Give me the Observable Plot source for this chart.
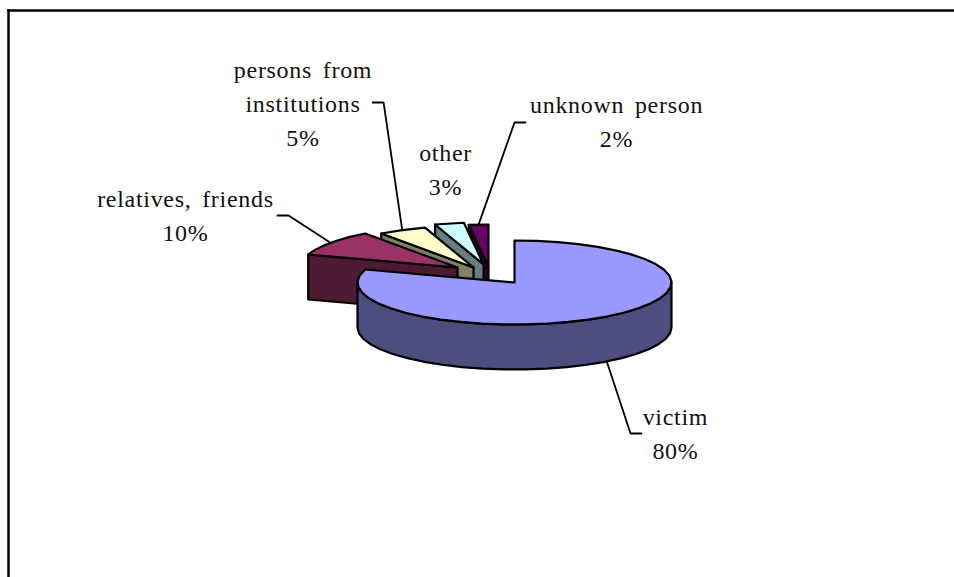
<!DOCTYPE html>
<html>
<head>
<meta charset="utf-8">
<script src="https://cdn.jsdelivr.net/npm/d3@7"></script>
<script src="https://cdn.jsdelivr.net/npm/@observablehq/plot@0.6"></script>
<style>html,body{margin:0;padding:0;background:#fff}svg{display:block}svg text{letter-spacing:0.7px;word-spacing:4px}</style>
</head>
<body>
<div id="chart"></div>
<script>
// Data
const categories = ["victim", "relatives, friends", "persons from\ninstitutions", "other", "unknown person"];
const shares = [80, 10, 5, 3, 2];
const topColors = ["#9999FF", "#993366", "#FFFFCC", "#CCFFFF", "#660066"];
const sideColors = ["#4D4D80", "#4D1A33", "#808066", "#668080", "#330033"];

// Layout, in pie units (x: horizontal radius = 1, y: vertical radius = 1, y downward)
const explodeX = [0, -0.363, -0.261, -0.197, -0.166];
const explodeY = [0, -0.357, -0.357, -0.43, -0.381];
const depth = 1.071;
const labelX = [1.025, -2.096, -1.347, -0.439, 0.65];
const labelY = [3.607, -1.571, -4.238, -2.667, -3.81];
const leaderElbow = [[0.739, 3.595], [-1.439, -1.595], [-0.834, -4.286], null, [0, -3.81]];
const leaderTail = [[0.809, 3.595], [-1.51, -1.595], [-0.904, -4.286], null, [0.07, -3.81]];
const paintOrder = [4, 3, 2, 1, 0];

const rad = (d) => (d * Math.PI) / 180;
const rim = (a, i, drop = 0) => ({
  x: explodeX[i] + Math.sin(a),
  y: explodeY[i] - Math.cos(a) + drop
});
const apex = (i) => ({x: explodeX[i], y: explodeY[i]});
function arc(a0, a1, i, drop = 0) {
  const step = rad(8);
  const n = Math.max(1, Math.round((a1 - a0) / step));
  return d3.range(n + 1).map((k) => rim(a0 + ((a1 - a0) * k) / n, i, drop));
}
const close = (pts) => [...pts, pts[0]];

const total = d3.sum(shares);
let acc = 0;
const slices = shares.map((v, i) => {
  const a0 = (acc / total) * 2 * Math.PI;
  acc += v;
  return {i, a0, a1: (acc / total) * 2 * Math.PI, mid: a0 + ((v / total) * 2 * Math.PI) / 2};
});

const marks = [];
marks.push(Plot.frame({anchor: "left", stroke: "black", strokeWidth: 2.5}));
marks.push(Plot.frame({anchor: "top", stroke: "black", strokeWidth: 2.5}));

function poly(points, fill) {
  marks.push(Plot.line(points, {x: "x", y: "y", fill, stroke: "black", strokeWidth: 2.2, strokeLinejoin: "round"}));
}
for (const idx of paintOrder) {
  const {i, a0, a1} = slices[idx];
  const A = apex(i);
  const wall = [A, rim(a0, i), rim(a0, i, depth), {x: A.x, y: A.y + depth}];
  if (i > 0) poly(close(wall), sideColors[i]);
  // outer wall over the front half of the rim
  const f0 = Math.max(a0, rad(90));
  const f1 = Math.min(a1, rad(270));
  if (f1 > f0) {
    const upper = arc(f0, f1, i);
    const lower = arc(f0, f1, i, depth).reverse();
    poly(close([...upper, ...lower]), sideColors[i]);
  }
  poly(close([A, ...arc(a0, a1, i)]), topColors[i]);
}

// Leaders
const leaderRows = [];
slices.forEach(({i, mid}) => {
  if (!leaderElbow[i]) return;
  const front = mid > rad(90) && mid < rad(270);
  const p = rim(mid, i, front ? depth : 0);
  [p, leaderElbow[i], leaderTail[i]].forEach((q) => {
    const [x, y] = Array.isArray(q) ? q : [q.x, q.y];
    leaderRows.push({i, x, y});
  });
});
marks.push(Plot.line(leaderRows, {x: "x", y: "y", z: "i", stroke: "black", strokeWidth: 1.8, strokeLinejoin: "miter"}));

// Labels
const labelRows = categories.map((c, i) => ({
  text: `${c}\n${Math.round((shares[i] / total) * 100)}%`,
  x: labelX[i],
  y: labelY[i]
}));
marks.push(Plot.text(labelRows, {
  x: "x", y: "y", text: "text", dy: -3,
  textAnchor: "middle", lineAnchor: "middle", lineHeight: 1.417,
  fontFamily: "Liberation Serif", fontSize: 24, fill: "#111"
}));

const W = 954, H = 577, mL = 8, mT = 10, cx = 514, cy = 282, rx = 157, ry = 42;
const plot = Plot.plot({
  width: W, height: H,
  marginLeft: mL, marginTop: mT, marginRight: 0, marginBottom: 0,
  x: {axis: null, domain: [(mL - cx) / rx, (W - cx) / rx]},
  y: {axis: null, domain: [(mT - cy) / ry, (H - cy) / ry], reverse: true},
  style: {background: "#fff"},
  marks
});
document.getElementById("chart").append(plot);
</script>
</body>
</html>
